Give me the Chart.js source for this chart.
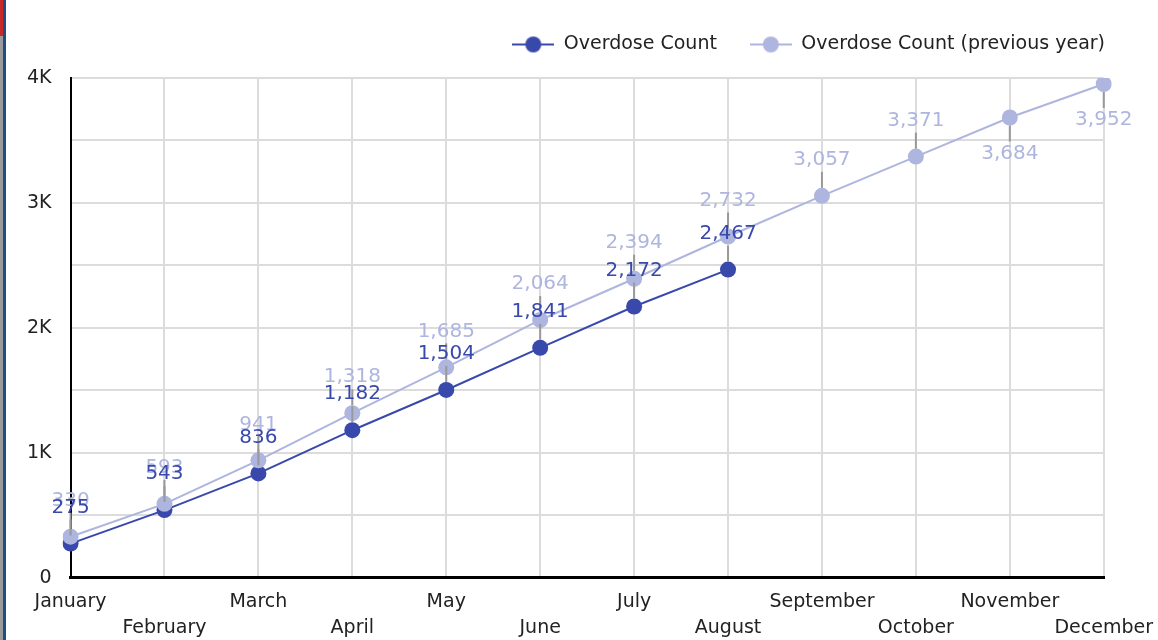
<!DOCTYPE html>
<html>
<head>
<meta charset="utf-8">
<script src="https://cdn.jsdelivr.net/npm/chart.js@4"></script>
<style>
  html, body { margin: 0; padding: 0; background: #fff; overflow: hidden; }
  #wrap { position: relative; width: 1158px; height: 640px; overflow: hidden; }
  #edge1 { position: absolute; left: 0; top: 0; width: 3px; height: 640px; background: #9a9a9a; }
  #edge1r { position: absolute; left: 0; top: 0; width: 3px; height: 36px; background: #c62828; }
  #edge2 { position: absolute; left: 3px; top: 0; width: 3px; height: 640px; background: #1f4e84; }
  #c { position: absolute; left: 6px; top: 0; }
</style>
</head>
<body>
<div id="wrap">
  <div id="edge1"></div><div id="edge1r"></div><div id="edge2"></div>
  <canvas id="c" width="1158" height="640"></canvas>
</div>
<script>
// data
const months = ['January', 'February', 'March', 'April', 'May', 'June', 'July', 'August', 'September', 'October', 'November', 'December'];
const overdoseCount = [275, 543, 836, 1182, 1504, 1841, 2172, 2467];
const overdosePrevYear = [330, 593, 941, 1318, 1685, 2064, 2394, 2732, 3057, 3371, 3684, 3952];
const yTickLabels = {0: '0', 1000: '1K', 2000: '2K', 3000: '3K', 4000: '4K'};

const dark = '#3949ab';
const light = '#aeb5df';
const FONT = '"DejaVu Sans", "Noto Sans", sans-serif';

// legend marker: line with circle
function legendMarker(color) {
  const cv = document.createElement('canvas');
  cv.width = 42; cv.height = 18;
  const g = cv.getContext('2d');
  g.strokeStyle = color; g.lineWidth = 2;
  g.beginPath(); g.moveTo(0, 9); g.lineTo(42, 9); g.stroke();
  g.fillStyle = color;
  g.beginPath(); g.arc(21, 9, 8, 0, Math.PI * 2); g.fill();
  return cv;
}

// extra space under the legend
const legendMargin = {
  id: 'legendMargin',
  beforeInit(chart) {
    const fit = chart.legend.fit;
    chart.legend.fit = function () {
      fit.bind(chart.legend)();
      this.height += 14;
    };
  }
};

// value labels with gray leader lines (previous year first, current on top)
const valueLabels = {
  id: 'valueLabels',
  afterDatasetsDraw(chart) {
    const ctx = chart.ctx;
    const top = chart.chartArea.top;
    ctx.save();
    ctx.font = '20px ' + FONT;
    ctx.textAlign = 'center';
    ctx.textBaseline = 'middle';
    [1, 0].forEach((di) => {
      const ds = chart.data.datasets[di];
      const meta = chart.getDatasetMeta(di);
      meta.data.forEach((pt, i) => {
        const v = ds.data[i];
        const below = pt.y - 36 < top + 30;
        const dir = below ? 1 : -1;
        ctx.strokeStyle = '#999';
        ctx.lineWidth = 2;
        ctx.beginPath();
        ctx.moveTo(pt.x, pt.y + dir * 8);
        ctx.lineTo(pt.x, pt.y + dir * 24);
        ctx.stroke();
        ctx.fillStyle = ds.borderColor;
        ctx.fillText(v.toLocaleString('en-US'), pt.x, pt.y + dir * 36);
      });
    });
    ctx.restore();
  }
};

const ctx = document.getElementById('c').getContext('2d');
const chart = new Chart(ctx, {
  type: 'line',
  data: {
    labels: months,
    datasets: [
      {
        label: 'Overdose Count',
        data: overdoseCount,
        borderColor: dark,
        backgroundColor: dark,
        borderWidth: 2,
        pointRadius: 8,
        pointHoverRadius: 8,
        pointBorderWidth: 0,
        tension: 0,
        order: 2
      },
      {
        label: 'Overdose Count (previous year)',
        data: overdosePrevYear,
        borderColor: light,
        backgroundColor: light,
        borderWidth: 2,
        pointRadius: 8,
        pointHoverRadius: 8,
        pointBorderWidth: 0,
        tension: 0,
        order: 1
      }
    ]
  },
  options: {
    responsive: false,
    animation: false,
    layout: { padding: { left: 2, right: 26, top: 2, bottom: -12 } },
    scales: {
      x: {
        offset: false,
        grid: { color: '#dcdcdc', lineWidth: 2, drawTicks: false },
        border: { color: '#000', width: 3 },
        ticks: {
          autoSkip: false,
          maxRotation: 0,
          padding: 11,
          color: '#222',
          font: { family: FONT, size: 19, lineHeight: 1.37 },
          callback: function (val, i) {
            const name = months[i];
            return i % 2 === 0 ? [name] : ['', name];
          }
        }
      },
      y: {
        min: 0,
        max: 4000,
        grid: { color: '#dcdcdc', lineWidth: 2, drawTicks: false },
        border: { color: '#000', width: 2 },
        ticks: {
          stepSize: 500,
          padding: 19,
          color: '#222',
          font: { family: FONT, size: 19 },
          callback: function (val) {
            return yTickLabels[val] !== undefined ? yTickLabels[val] : '';
          }
        }
      }
    },
    plugins: {
      legend: {
        display: true,
        align: 'end',
        labels: {
          usePointStyle: true,
          pointStyleWidth: 42,
          color: '#222',
          font: { family: FONT, size: 19 },
          padding: 33,
          generateLabels: function (chart) {
            return chart.data.datasets.map((ds, i) => ({
              text: ds.label,
              pointStyle: legendMarker(ds.borderColor),
              fillStyle: ds.borderColor,
              strokeStyle: ds.borderColor,
              fontColor: '#222',
              lineWidth: 0,
              hidden: false,
              datasetIndex: i
            }));
          }
        }
      },
      tooltip: { enabled: false }
    }
  },
  plugins: [legendMargin, valueLabels]
});
</script>
</body>
</html>
